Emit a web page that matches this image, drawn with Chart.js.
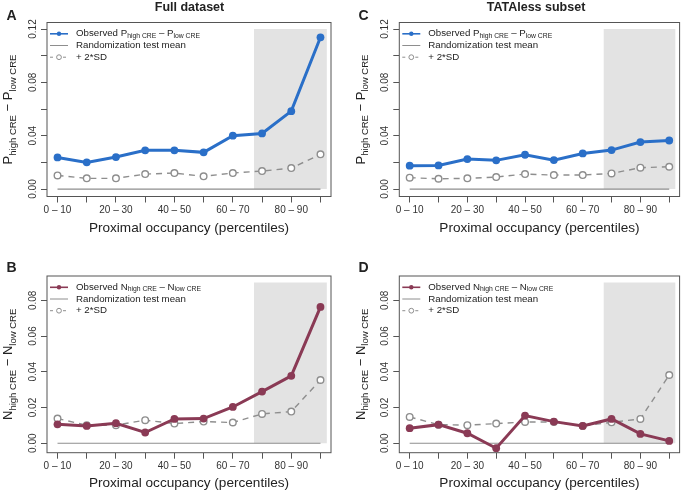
<!DOCTYPE html>
<html>
<head>
<meta charset="utf-8">
<script src="https://cdn.jsdelivr.net/npm/chart.js@4.4.0/dist/chart.umd.min.js"></script>
<style>
  html, body { margin: 0; padding: 0; background: #fff; }
  #wrap { position: relative; width: 685px; height: 491px; }
  canvas { position: absolute; }
</style>
</head>
<body>
<div id="wrap">
  <canvas id="cA" width="342" height="245" style="left:0;top:0;width:342px;height:245px"></canvas>
  <canvas id="cC" width="343" height="245" style="left:342px;top:0;width:343px;height:245px"></canvas>
  <canvas id="cB" width="342" height="246" style="left:0;top:245px;width:342px;height:246px"></canvas>
  <canvas id="cD" width="343" height="246" style="left:342px;top:245px;width:343px;height:246px"></canvas>
</div>
<script>
// categories on the x axis
const categories = ['0 – 10', '10 – 20', '20 – 30', '30 – 40', '40 – 50',
                    '50 – 60', '60 – 70', '70 – 80', '80 – 90', '90 – 100'];

// panel A - full dataset, P difference
const obsFullP = [0.0237, 0.0200, 0.0240, 0.0290, 0.0290, 0.0275, 0.0400, 0.0417, 0.0584, 0.1138];
const sdFullP  = [0.0102, 0.0080, 0.0080, 0.0112, 0.0120, 0.0095, 0.0120, 0.0135, 0.0157, 0.0260];
// panel C - TATAless subset, P difference
const obsTataP = [0.0175, 0.0177, 0.0225, 0.0215, 0.0257, 0.0217, 0.0267, 0.0292, 0.0352, 0.0364];
const sdTataP  = [0.0085, 0.0077, 0.0080, 0.0090, 0.0112, 0.0105, 0.0105, 0.0117, 0.0160, 0.0167];
// panel B - full dataset, N difference
const obsFullN = [0.0106, 0.0097, 0.0112, 0.0060, 0.0136, 0.0138, 0.0203, 0.0289, 0.0377, 0.0763];
const sdFullN  = [0.0138, 0.0101, 0.0101, 0.0129, 0.0110, 0.0121, 0.0116, 0.0164, 0.0177, 0.0354];
// panel D - TATAless subset, N difference
const obsTataN = [0.0084, 0.0104, 0.0056, -0.0028, 0.0155, 0.0121, 0.0097, 0.0136, 0.0052, 0.0013];
const sdTataN  = [0.0147, 0.0104, 0.0101, 0.0110, 0.0119, 0.0119, 0.0097, 0.0117, 0.0136, 0.0382];
// randomization test mean (same for all panels)
const randMean = [0, 0, 0, 0, 0, 0, 0, 0, 0, 0];

// y ticks
const yTicksP = [0, 0.02, 0.04, 0.06, 0.08, 0.10, 0.12];
const yLabelsP = [0, 0.04, 0.08, 0.12];
const yTicksN = [0, 0.02, 0.04, 0.06, 0.08];
const yLabelsN = [0, 0.02, 0.04, 0.06, 0.08];

// shaded high occupancy band (x in category index units)
const shadeFrom = 7.72;
const shadeTo = 10.22;

const FONT = '"Liberation Sans", Arial, Helvetica, sans-serif';
const BLUE = '#2a6fc8';
const MAROON = '#8a3a55';
const GREY = '#8e8e8e';

function toXY(arr) {
    return arr.map((v, i) => ({ x: i + 1, y: v }));
}

// text pieces with subscripts along one baseline
function richWidth(ctx, parts) {
    let w = 0;
    parts.forEach(p => {
        ctx.font = p.size + 'px ' + FONT;
        w += ctx.measureText(p.t).width;
    });
    return w;
}
function drawRich(ctx, x, y, parts) {
    let cx = x;
    parts.forEach(p => {
        ctx.font = p.size + 'px ' + FONT;
        ctx.fillText(p.t, cx, y + (p.dy || 0));
        cx += ctx.measureText(p.t).width;
    });
}

function makePanel(id, cfg) {
    const canvas = document.getElementById(id);
    const W = canvas.width, H = canvas.height;
    const box = cfg.box;

    const deco = {
        id: 'deco' + id,
        afterDatasetsDraw(chart) {
            const ctx = chart.ctx, ca = chart.chartArea;
            ctx.save();
            ctx.strokeStyle = '#555';
            ctx.lineWidth = 1;
            ctx.strokeRect(ca.left, ca.top, ca.right - ca.left, ca.bottom - ca.top);
            ctx.restore();
        },
        afterDraw(chart) {
            const ctx = chart.ctx, ca = chart.chartArea;
            const ys = chart.scales.y;
            ctx.save();
            ctx.fillStyle = '#222';

            // panel letter
            ctx.font = 'bold 14px ' + FONT;
            ctx.textAlign = 'left';
            ctx.textBaseline = 'alphabetic';
            ctx.fillText(cfg.letter, cfg.letterX, cfg.letterY);

            // column title
            if (cfg.title) {
                ctx.font = 'bold 12.5px ' + FONT;
                ctx.textAlign = 'center';
                ctx.fillText(cfg.title, cfg.titleX, 10.8);
            }

            // y tick labels, rotated
            ctx.fillStyle = '#333';
            ctx.font = '10px ' + FONT;
            ctx.textAlign = 'center';
            ctx.textBaseline = 'middle';
            cfg.yLabels.forEach(v => {
                const py = ys.getPixelForValue(v);
                ctx.save();
                ctx.translate(ca.left - 14, py);
                ctx.rotate(-Math.PI / 2);
                ctx.fillText(v.toFixed(2), 0, 0);
                ctx.restore();
            });

            // y axis title with subscripts
            ctx.fillStyle = '#222';
            ctx.textAlign = 'left';
            ctx.textBaseline = 'alphabetic';
            const L = cfg.sym;
            const tparts = [
                { t: L, size: 13 },
                { t: 'high CRE', size: 9.5, dy: 3.5 },
                { t: ' − ', size: 13 },
                { t: L, size: 13 },
                { t: 'low CRE', size: 9.5, dy: 3.5 }
            ];
            const tw = richWidth(ctx, tparts);
            ctx.save();
            ctx.translate(ca.left - 34.7, (ca.top + ca.bottom) / 2);
            ctx.rotate(-Math.PI / 2);
            drawRich(ctx, -tw / 2, 0, tparts);
            ctx.restore();

            // legend
            const lx0 = ca.left + 3, lx1 = ca.left + 21, tx = ca.left + 29;
            const rows = [ca.top + 11.3, ca.top + 23, ca.top + 34.7];
            ctx.strokeStyle = cfg.color;
            ctx.lineWidth = 1.6;
            ctx.beginPath(); ctx.moveTo(lx0, rows[0]); ctx.lineTo(lx1, rows[0]); ctx.stroke();
            ctx.fillStyle = cfg.color;
            ctx.beginPath(); ctx.arc((lx0 + lx1) / 2, rows[0], 2.2, 0, Math.PI * 2); ctx.fill();
            ctx.strokeStyle = GREY;
            ctx.lineWidth = 1;
            ctx.beginPath(); ctx.moveTo(lx0, rows[1]); ctx.lineTo(lx1, rows[1]); ctx.stroke();
            ctx.setLineDash([3, 3]);
            ctx.beginPath(); ctx.moveTo(lx0, rows[2]); ctx.lineTo(lx0 + 5, rows[2]); ctx.stroke();
            ctx.beginPath(); ctx.moveTo(lx1 - 5, rows[2]); ctx.lineTo(lx1, rows[2]); ctx.stroke();
            ctx.setLineDash([]);
            ctx.fillStyle = '#fff';
            ctx.beginPath(); ctx.arc((lx0 + lx1) / 2, rows[2], 2.4, 0, Math.PI * 2); ctx.fill(); ctx.stroke();

            ctx.fillStyle = '#222';
            ctx.textBaseline = 'middle';
            drawRich(ctx, tx, rows[0], [
                { t: 'Observed ' + L, size: 9.7 },
                { t: 'high CRE', size: 6.8, dy: 2 },
                { t: ' – ' + L, size: 9.7 },
                { t: 'low CRE', size: 6.8, dy: 2 }
            ]);
            drawRich(ctx, tx, rows[1], [{ t: 'Randomization test mean', size: 9.7 }]);
            drawRich(ctx, tx, rows[2], [{ t: '+ 2*SD', size: 9.7 }]);
            ctx.restore();
        }
    };

    const gridOpts = {
        display: true, drawOnChartArea: false, drawTicks: true,
        tickLength: 6, color: '#555', lineWidth: 1
    };

    return new Chart(canvas, {
        type: 'line',
        data: {
            datasets: [
                {
                    label: 'Observed', data: toXY(cfg.obs),
                    borderColor: cfg.color, backgroundColor: cfg.color,
                    borderWidth: 3, pointRadius: 3.9, pointBorderWidth: 0,
                    pointBackgroundColor: cfg.color, order: 1
                },
                {
                    label: '+ 2*SD', data: toXY(cfg.sd),
                    borderColor: GREY, borderWidth: 1.4, borderDash: [6, 5],
                    pointRadius: 3.3, pointBorderWidth: 1.4,
                    pointBackgroundColor: '#fff', pointBorderColor: GREY, order: 2
                },
                {
                    label: 'Randomization test mean', data: toXY(randMean),
                    borderColor: GREY, borderWidth: 1.2, pointRadius: 0, order: 3
                },
                {
                    label: 'shade',
                    data: [{ x: shadeFrom, y: cfg.shadeTop }, { x: shadeTo, y: cfg.shadeTop }],
                    borderWidth: 0, borderColor: 'rgba(0,0,0,0)', pointRadius: 0,
                    fill: { value: 0 }, backgroundColor: '#e3e3e3', order: 9
                }
            ]
        },
        options: {
            responsive: false,
            animation: false,
            devicePixelRatio: 1,
            events: [],
            layout: { padding: { left: 0, top: box.t, right: W - box.r, bottom: 0 } },
            plugins: { legend: { display: false }, tooltip: { enabled: false } },
            scales: {
                x: {
                    type: 'linear', min: 0.64, max: 10.36,
                    afterFit: s => { s.height = H - box.b; },
                    afterBuildTicks: s => { s.ticks = categories.map((c, i) => ({ value: i + 1 })); },
                    grid: gridOpts,
                    border: { display: false },
                    ticks: {
                        autoSkip: false, maxRotation: 0, minRotation: 0, padding: 2,
                        color: '#333', font: { family: FONT, size: 10 },
                        callback: v => {
                            const i = Math.round(v) - 1;
                            return i % 2 === 0 ? categories[i] : '';
                        }
                    },
                    title: {
                        display: true, text: 'Proximal occupancy (percentiles)',
                        color: '#222', font: { family: FONT, size: 13.6 },
                        padding: { top: 0, bottom: cfg.xTitlePad }
                    }
                },
                y: {
                    min: cfg.yMin, max: cfg.yMax,
                    afterFit: s => { s.width = box.l; },
                    afterBuildTicks: s => { s.ticks = cfg.yTicks.map(v => ({ value: v })); },
                    grid: gridOpts,
                    border: { display: false },
                    ticks: { display: false }
                }
            }
        },
        plugins: [deco]
    });
}

makePanel('cA', {
    letter: 'A', letterX: 6.5, letterY: 20, title: 'Full dataset', titleX: 189.5,
    box: { l: 47, t: 22.5, r: 331, b: 196.5 },
    obs: obsFullP, sd: sdFullP, color: BLUE, sym: 'P',
    yMin: -0.0056, yMax: 0.1249, yTicks: yTicksP, yLabels: yLabelsP,
    shadeTop: 0.12, xTitlePad: 8.8
});
makePanel('cC', {
    letter: 'C', letterX: 16.5, letterY: 20, title: 'TATAless subset', titleX: 194,
    box: { l: 57.3, t: 22.5, r: 342, b: 196.5 },
    obs: obsTataP, sd: sdTataP, color: BLUE, sym: 'P',
    yMin: -0.0056, yMax: 0.1249, yTicks: yTicksP, yLabels: yLabelsP,
    shadeTop: 0.12, xTitlePad: 8.8
});
makePanel('cB', {
    letter: 'B', letterX: 6.5, letterY: 26.7, title: null,
    box: { l: 47, t: 31, r: 331, b: 207.7 },
    obs: obsFullN, sd: sdFullN, color: MAROON, sym: 'N',
    yMin: -0.0053, yMax: 0.0936, yTicks: yTicksN, yLabels: yLabelsN,
    shadeTop: 0.09, xTitlePad: 0
});
makePanel('cD', {
    letter: 'D', letterX: 16.5, letterY: 26.7, title: null,
    box: { l: 57.3, t: 31, r: 342, b: 207.7 },
    obs: obsTataN, sd: sdTataN, color: MAROON, sym: 'N',
    yMin: -0.0053, yMax: 0.0936, yTicks: yTicksN, yLabels: yLabelsN,
    shadeTop: 0.09, xTitlePad: 0
});
</script>
</body>
</html>
